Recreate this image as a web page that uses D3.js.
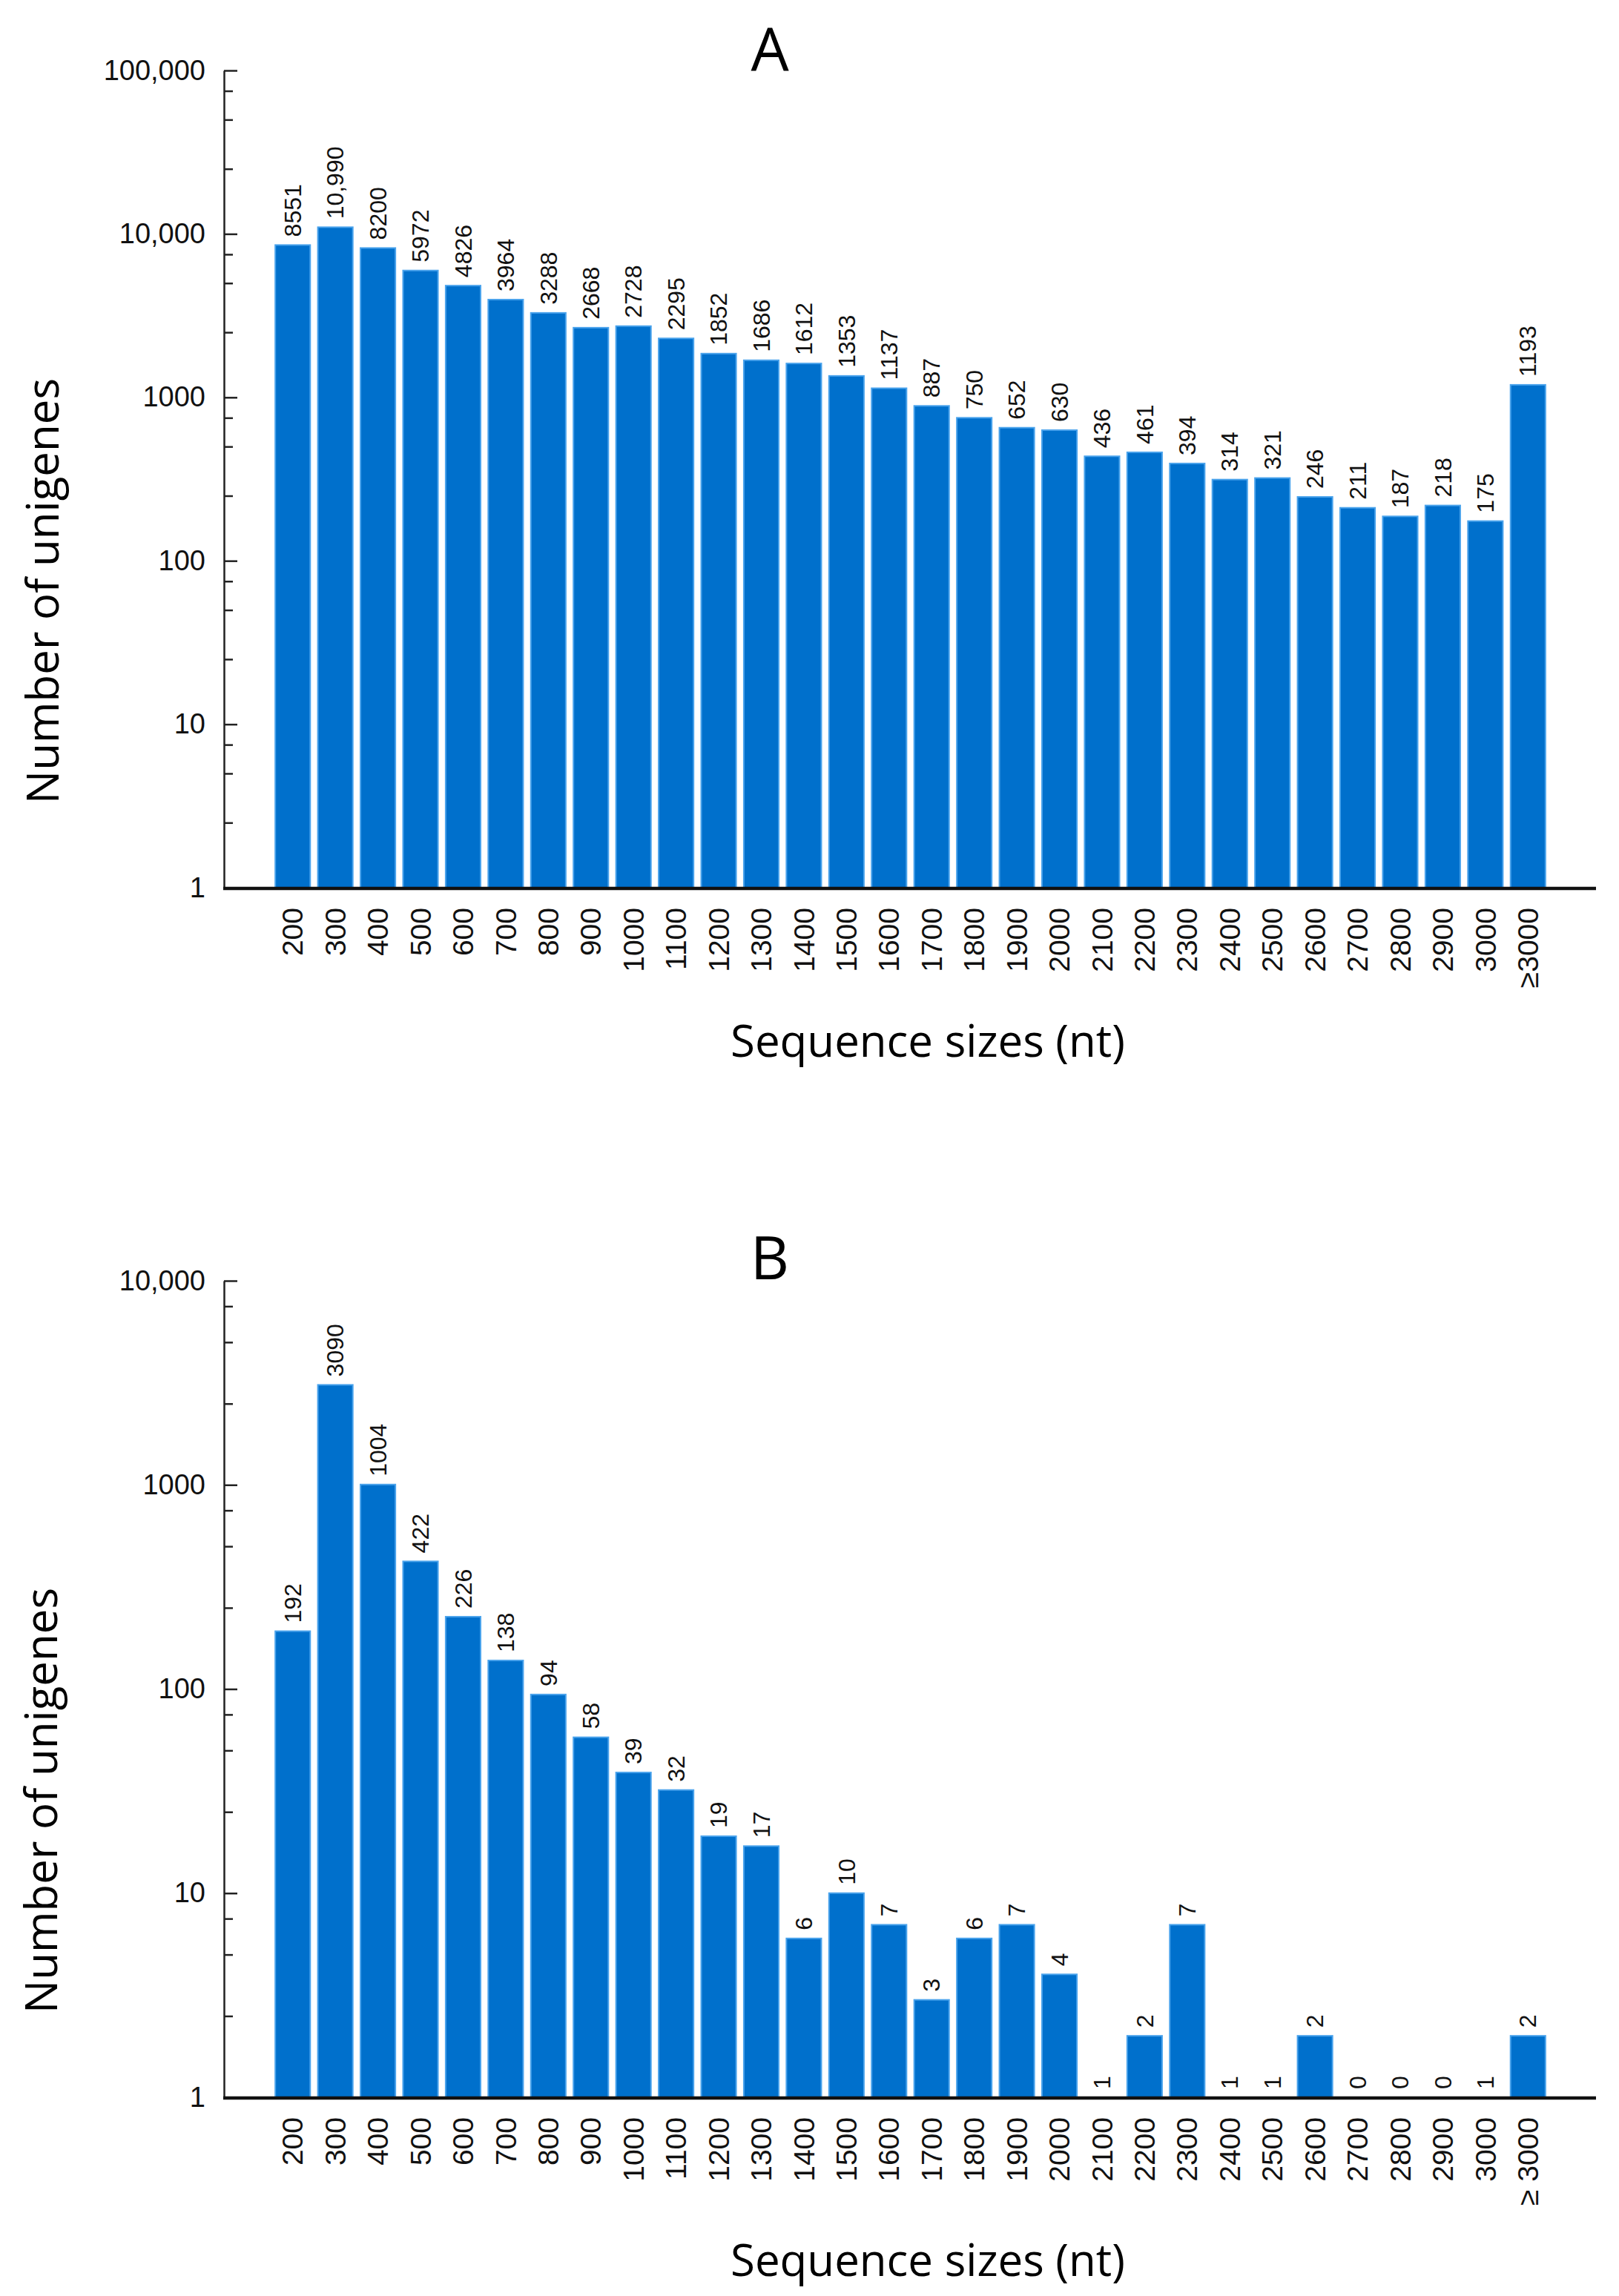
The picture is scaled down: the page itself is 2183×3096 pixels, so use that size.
<!DOCTYPE html>
<html>
<head>
<meta charset="utf-8">
<script src="https://cdn.jsdelivr.net/npm/d3@7"></script>
<style>
  body { margin: 0; background: #fff; }
  svg { display: block; }
</style>
</head>
<body>
<svg id="chart" width="2183" height="3096"></svg>
<script>
// Sequence size bins (nt)
const sizesA = ['200','300','400','500','600','700','800','900','1000','1100','1200','1300','1400','1500','1600',
  '1700','1800','1900','2000','2100','2200','2300','2400','2500','2600','2700','2800','2900','3000','≥3000'];
const sizesB = ['200','300','400','500','600','700','800','900','1000','1100','1200','1300','1400','1500','1600',
  '1700','1800','1900','2000','2100','2200','2300','2400','2500','2600','2700','2800','2900','3000','≥ 3000'];

// Number of unigenes per bin
const countsA = [8551, 10990, 8200, 5972, 4826, 3964, 3288, 2668, 2728, 2295, 1852, 1686, 1612, 1353, 1137,
  887, 750, 652, 630, 436, 461, 394, 314, 321, 246, 211, 187, 218, 175, 1193];
const countsB = [192, 3090, 1004, 422, 226, 138, 94, 58, 39, 32, 19, 17, 6, 10, 7,
  3, 6, 7, 4, 1, 2, 7, 1, 1, 2, 0, 0, 0, 1, 2];

// Axis ticks
const majorTicksA = [1, 10, 100, 1000, 10000, 100000];
const majorTicksB = [1, 10, 100, 1000, 10000];
const minorSteps = [2.5, 5, 7.5];

const barFill = '#0070CC';
const barEdge = '#4AA3EC';

const svg = d3.select('#chart');
const fmt = v => v >= 10000 ? d3.format(',')(v) : String(v);

function drawPanel(opt) {
    const { letter, cats, vals, majors, top, bottom, letterY, xTitleY, yTitleY, yTitleX } = opt;
    const axisX = 302;
    const axisEnd = 2152;

    const x = d3.scaleBand()
        .domain(cats)
        .range([366, 2089])
        .paddingInner(0.18)
        .paddingOuter(0.09);

    const y = d3.scaleLog()
        .domain([1, majors[majors.length - 1]])
        .range([bottom, top]);

    const g = svg.append('g');

    // bars
    g.selectAll('.bar')
        .data(vals)
        .enter()
        .append('rect')
        .attr('class', 'bar')
        .attr('x', (d, i) => x(cats[i]))
        .attr('y', d => y(Math.max(d, 1)))
        .attr('width', x.bandwidth())
        .attr('height', d => bottom - y(Math.max(d, 1)))
        .attr('fill', barFill)
        .attr('stroke', d => d > 1 ? barEdge : 'none')
        .attr('stroke-width', 2);

    // value labels
    g.selectAll('.val')
        .data(vals)
        .enter()
        .append('text')
        .attr('class', 'val')
        .attr('transform', (d, i) =>
            `translate(${x(cats[i]) + x.bandwidth() / 2},${y(Math.max(d, 1)) - 11}) rotate(-90)`)
        .attr('dy', '0.35em')
        .attr('text-anchor', 'start')
        .style('font-family', '"Liberation Sans", Arial, sans-serif')
        .style('font-size', '32px')
        .style('fill', '#111')
        .text(d => fmt(d));

    // minor ticks
    const minors = [];
    majors.slice(0, -1).forEach(m => minorSteps.forEach(s => minors.push(m * s)));

    g.append('g')
        .attr('transform', `translate(${axisX},0)`)
        .call(d3.axisLeft(y).tickValues(minors).tickSizeInner(-12).tickSizeOuter(0).tickFormat(''))
        .call(a => a.select('.domain').remove())
        .call(a => a.selectAll('line').attr('stroke', '#222').attr('stroke-width', 2.5));

    // y axis
    g.append('g')
        .attr('transform', `translate(${axisX},0)`)
        .call(d3.axisLeft(y).tickValues(majors).tickSizeInner(-18).tickSizeOuter(0).tickPadding(25).tickFormat(fmt))
        .call(a => a.select('.domain').attr('stroke', '#222').attr('stroke-width', 2.5))
        .call(a => a.selectAll('line').attr('stroke', '#222').attr('stroke-width', 2.5))
        .call(a => a.selectAll('text')
            .style('font-family', '"Liberation Sans", Arial, sans-serif')
            .style('font-size', '38px')
            .style('fill', '#111'));

    // x axis
    g.append('g')
        .attr('transform', `translate(0,${bottom})`)
        .call(d3.axisBottom(x).tickSize(0))
        .call(a => a.select('.domain').remove())
        .call(a => a.selectAll('text')
            .attr('transform', 'rotate(-90)')
            .attr('x', -27)
            .attr('y', 0)
            .attr('dy', '0.35em')
            .attr('text-anchor', 'end')
            .style('font-family', '"Liberation Sans", Arial, sans-serif')
            .style('font-size', '39px')
            .style('fill', '#111'));

    g.append('line')
        .attr('x1', axisX - 1)
        .attr('x2', axisEnd)
        .attr('y1', bottom + 1)
        .attr('y2', bottom + 1)
        .attr('stroke', '#111')
        .attr('stroke-width', 4.5);

    // panel letter
    g.append('text')
        .attr('x', 1038)
        .attr('y', letterY)
        .attr('text-anchor', 'middle')
        .style('font-family', '"Open Sans", sans-serif')
        .style('font-size', '81px')
        .style('fill', '#000')
        .text(letter);

    // axis titles
    g.append('text')
        .attr('x', 1251)
        .attr('y', xTitleY)
        .attr('text-anchor', 'middle')
        .style('font-family', '"Open Sans", sans-serif')
        .style('font-size', '60px')
        .style('fill', '#000')
        .text('Sequence sizes (nt)');

    g.append('text')
        .attr('transform', `translate(${yTitleX},${yTitleY}) rotate(-90)`)
        .attr('text-anchor', 'middle')
        .style('font-family', '"Open Sans", sans-serif')
        .style('font-size', '60px')
        .style('fill', '#000')
        .text('Number of unigenes');
}

drawPanel({
    letter: 'A', cats: sizesA, vals: countsA, majors: majorTicksA,
    top: 95, bottom: 1197, letterY: 95, xTitleY: 1425, yTitleY: 797, yTitleX: 79
});

drawPanel({
    letter: 'B', cats: sizesB, vals: countsB, majors: majorTicksB,
    top: 1727, bottom: 2828, letterY: 1725, xTitleY: 3069, yTitleY: 2428, yTitleX: 77
});
</script>
</body>
</html>
